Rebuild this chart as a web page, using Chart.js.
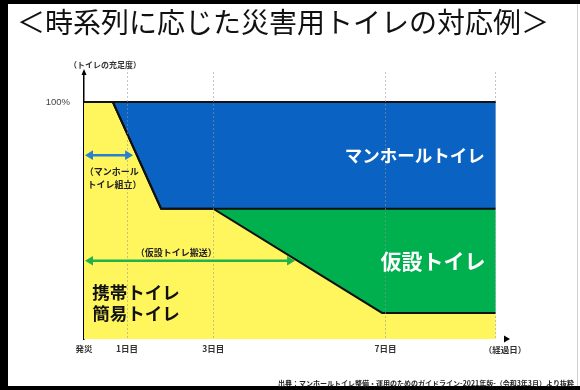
<!DOCTYPE html>
<html lang="ja">
<head>
<meta charset="utf-8">
<title>時系列に応じた災害用トイレの対応例</title>
<script src="https://cdn.jsdelivr.net/npm/chart.js@4.4.1/dist/chart.umd.min.js"></script>
<style>
  html, body { margin: 0; padding: 0; background: #fff; }
  #wrap { width: 580px; height: 390px; }
</style>
</head>
<body>
<div id="wrap"><canvas id="toiletChart" width="580" height="390"></canvas></div>
<script>
(function () {
  "use strict";

  var JP = '"Noto Sans CJK JP", "Noto Sans", sans-serif';

  // 経過日数 (x) / トイレの充足度 % (y)
  var portableDays = [0, 0.67, 1.79, 3, 6.92, 9.56];
  var portableLevel = [100, 100, 55, 55, 11, 11];
  var temporaryDays = [0, 0.67, 1.79, 9.56];
  var temporaryLevel = [100, 100, 55, 55];
  var manholeDays = [0, 9.56];
  var manholeLevel = [100, 100];

  var tickDays = [0, 1, 3, 7, 9.56];
  var tickLabels = ["発災", "1日目", "3日目", "7日目", ""];
  var levelTicks = [100];

  var dayMax = 9.82;
  var levelMax = 112.7;

  var YELLOW = "#fff55c";
  var GREEN = "#00b04f";
  var BLUE = "#0a63c2";

  // periods shown with arrows
  var arrows = [
    { from: 0, to: 1.14, level: 77.6, color: "#2a80cc" },
    { from: 0, to: 4.9, level: 33, color: "#22b24c" }
  ];

  var areaLabels = [
    { text: "マンホールトイレ", day: 7.68, level: 77.5, size: 17.5, color: "#fff", align: "center" },
    { text: "仮設トイレ", day: 8.1, level: 33, size: 21, color: "#fff", align: "center" },
    { text: "携帯トイレ", day: 0.19, level: 19.8, size: 17.5, color: "#111", align: "left" },
    { text: "簡易トイレ", day: 0.19, level: 11, size: 17.5, color: "#111", align: "left" }
  ];

  var noteLabels = [
    { text: "（マンホール", day: 0.02, level: 70.5, align: "left" },
    { text: "トイレ組立）", day: 0.08, level: 65, align: "left" },
    { text: "（仮設トイレ搬送）", day: 2.14, level: 36.3, align: "center" }
  ];

  function pts(xs, ys) {
    return xs.map(function (x, i) {
      return { x: x, y: ys[i] };
    });
  }

  function arrowHead(ctx, x, y, dir, size) {
    ctx.beginPath();
    ctx.moveTo(x, y);
    ctx.lineTo(x - dir * size, y - size * 0.6);
    ctx.lineTo(x - dir * size, y + size * 0.6);
    ctx.closePath();
    ctx.fill();
  }

  var decor = {
    id: "decor",
    beforeDraw: function (chart) {
      var ctx = chart.ctx;
      ctx.save();
      ctx.fillStyle = "#fff";
      ctx.fillRect(0, 0, chart.width, chart.height);
      ctx.fillStyle = "#000";
      ctx.fillRect(0, 0, chart.width, 4);
      ctx.fillRect(0, 0, 8, chart.height);
      ctx.fillRect(0, chart.height - 4, chart.width, 4);
      ctx.fillStyle = "#d0d0d0";
      ctx.fillRect(chart.width - 3, 4, 1, chart.height - 8);
      ctx.restore();
    },
    afterDraw: function (chart) {
      var ctx = chart.ctx;
      var xs = chart.scales.x;
      var ys = chart.scales.y;
      var area = chart.chartArea;
      ctx.save();

      // title
      ctx.fillStyle = "#111";
      ctx.font = "28px " + JP;
      ctx.textAlign = "left";
      ctx.textBaseline = "middle";
      ctx.fillText("＜時系列に応じた災害用トイレの対応例＞", 17, 22);

      // axis arrow heads
      ctx.fillStyle = "#000";
      ctx.beginPath();
      ctx.moveTo(area.left, area.top - 3);
      ctx.lineTo(area.left - 2.5, area.top + 3);
      ctx.lineTo(area.left + 2.5, area.top + 3);
      ctx.closePath();
      ctx.fill();
      arrowHead(ctx, area.right + 3, area.bottom, 1, 6);

      // axis captions
      ctx.fillStyle = "#333";
      ctx.font = "bold 8px " + JP;
      ctx.textAlign = "center";
      ctx.fillText("（トイレの充足度）", area.left + 21, area.top - 7);
      ctx.font = "bold 8.5px " + JP;
      ctx.fillText("（経過日）", area.right - 2, area.bottom + 11);

      // period arrows
      arrows.forEach(function (a) {
        var x1 = xs.getPixelForValue(a.from);
        var x2 = xs.getPixelForValue(a.to);
        var y = ys.getPixelForValue(a.level);
        ctx.strokeStyle = a.color;
        ctx.fillStyle = a.color;
        ctx.lineWidth = 2.5;
        ctx.beginPath();
        ctx.moveTo(x1 + 5, y);
        ctx.lineTo(x2 - 5, y);
        ctx.stroke();
        arrowHead(ctx, x2, y, 1, 8);
        arrowHead(ctx, x1 + 1, y, -1, 8);
      });

      noteLabels.forEach(function (n) {
        ctx.fillStyle = "#222";
        ctx.font = "bold 9px " + JP;
        ctx.textAlign = n.align;
        ctx.fillText(n.text, xs.getPixelForValue(n.day), ys.getPixelForValue(n.level));
      });

      areaLabels.forEach(function (l) {
        ctx.fillStyle = l.color;
        ctx.font = "bold " + l.size + "px " + JP;
        ctx.textAlign = l.align;
        ctx.fillText(l.text, xs.getPixelForValue(l.day), ys.getPixelForValue(l.level));
      });

      // source
      ctx.fillStyle = "#222";
      ctx.font = "bold 7px " + JP;
      ctx.textAlign = "right";
      ctx.fillText("出典：マンホールトイレ整備・運用のためのガイドライン-2021年版-（令和3年3月）より抜粋", 574, 383);

      ctx.restore();
    }
  };

  var el = document.getElementById("toiletChart");
  new Chart(el, {
    type: "line",
    data: {
      datasets: [
        {
          label: "携帯トイレ・簡易トイレ",
          data: pts(portableDays, portableLevel),
          backgroundColor: YELLOW,
          fill: "origin"
        },
        {
          label: "仮設トイレ",
          data: pts(temporaryDays, temporaryLevel),
          backgroundColor: GREEN,
          fill: "-1"
        },
        {
          label: "マンホールトイレ",
          data: pts(manholeDays, manholeLevel),
          backgroundColor: BLUE,
          fill: "-1"
        }
      ]
    },
    options: {
      responsive: false,
      animation: false,
      devicePixelRatio: 1,
      layout: { padding: { top: 72, left: 40, right: 73, bottom: 31 } },
      elements: {
        line: { borderColor: "#111", borderWidth: 2, tension: 0 },
        point: { radius: 0, hoverRadius: 0 }
      },
      plugins: {
        legend: { display: false },
        tooltip: { enabled: false },
        filler: { drawTime: "beforeDatasetsDraw" }
      },
      scales: {
        x: {
          type: "linear",
          min: 0,
          max: dayMax,
          afterBuildTicks: function (scale) {
            scale.ticks = tickDays.map(function (v) { return { value: v }; });
          },
          afterFit: function (scale) { scale.height = 20; },
          ticks: {
            autoSkip: false,
            maxRotation: 0,
            padding: 5,
            color: "#333",
            font: { family: JP, size: 8.5, weight: "bold" },
            callback: function (v, i) { return tickLabels[i]; }
          },
          grid: {
            z: 1,
            drawTicks: false,
            lineWidth: 1,
            color: function (c) {
              return c.tick && c.tick.value === 0 ? "transparent" : "rgba(150,150,150,0.55)";
            }
          },
          border: { color: "#000", width: 1.5, dash: [2, 2] }
        },
        y: {
          min: 0,
          max: levelMax,
          afterBuildTicks: function (scale) {
            scale.ticks = levelTicks.map(function (v) { return { value: v }; });
          },
          afterFit: function (scale) { scale.width = 44; },
          ticks: {
            padding: 6,
            color: "#444",
            font: { family: '"Liberation Sans", Arial, sans-serif', size: 9.5 },
            callback: function (v) { return v + "%"; }
          },
          grid: { display: false },
          border: { color: "#000", width: 1.5 }
        }
      }
    },
    plugins: [decor]
  });
})();
</script>
</body>
</html>
